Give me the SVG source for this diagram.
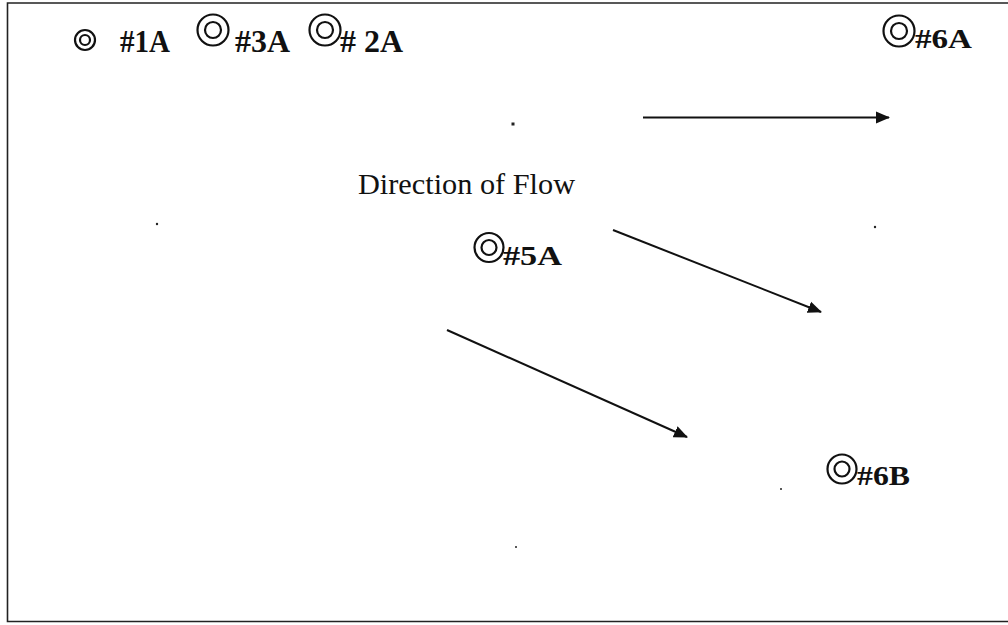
<svg xmlns="http://www.w3.org/2000/svg" width="1008" height="625" viewBox="0 0 1008 625">
  <style>
    .ring { fill: none; stroke: #111; stroke-width: 2.2; }
    .lbl { font-family: "Liberation Serif", "Noto Serif", serif; font-weight: bold; font-size: 31px; fill: #111; }
    .lbl2 { font-family: "Liberation Serif", "Noto Serif", serif; font-weight: bold; font-size: 28px; fill: #111; }
    .title { font-family: "Liberation Serif", "Noto Serif", serif; font-size: 30px; fill: #111; }
    .flow { stroke: #111; stroke-width: 2; fill: none; marker-end: url(#ah); }
    .dot { fill: #222; }
  </style>
  <defs>
    <marker id="ah" markerUnits="userSpaceOnUse" markerWidth="14" markerHeight="14" viewBox="0 0 14 14" refX="13" refY="7" orient="auto">
      <path d="M0,1 L14,7 L0,13 Z" fill="#111"/>
    </marker>
  </defs>
  <rect width="1008" height="625" fill="#fff"/>
  <g id="frame" stroke="#222" stroke-width="1.6" fill="none">
    <path d="M1008,3 L7.5,3 L7.5,621.5 L1008,621.5"/>
  </g>

  <g id="well-1A">
    <circle class="ring" cx="85" cy="40" r="10"/>
    <circle class="ring" cx="85" cy="40" r="5"/>
    <text class="lbl" x="120" y="52" textLength="50" lengthAdjust="spacingAndGlyphs">#1A</text>
  </g>
  <g id="well-3A">
    <circle class="ring" cx="213" cy="30" r="15.5"/>
    <circle class="ring" cx="213" cy="30" r="8"/>
    <text class="lbl" x="235" y="52" textLength="55" lengthAdjust="spacingAndGlyphs">#3A</text>
  </g>
  <g id="well-2A">
    <circle class="ring" cx="325" cy="30" r="15.5"/>
    <circle class="ring" cx="325" cy="30" r="8"/>
    <text class="lbl" x="340" y="52" textLength="63" lengthAdjust="spacingAndGlyphs"># 2A</text>
  </g>
  <g id="well-6A">
    <circle class="ring" cx="899" cy="31" r="15.5"/>
    <circle class="ring" cx="899" cy="31" r="8"/>
    <text class="lbl2" x="915" y="48" textLength="57" lengthAdjust="spacingAndGlyphs">#6A</text>
  </g>
  <g id="well-5A">
    <circle class="ring" cx="489" cy="247.5" r="14.5"/>
    <circle class="ring" cx="489" cy="247.5" r="7.5"/>
    <text class="lbl2" x="503" y="265" textLength="59" lengthAdjust="spacingAndGlyphs">#5A</text>
  </g>
  <g id="well-6B">
    <circle class="ring" cx="842" cy="469" r="14.5"/>
    <circle class="ring" cx="842" cy="469" r="7.5"/>
    <text class="lbl2" x="857" y="485" textLength="53" lengthAdjust="spacingAndGlyphs">#6B</text>
  </g>

  <g id="title">
    <text class="title" x="358" y="194" textLength="217" lengthAdjust="spacingAndGlyphs">Direction of Flow</text>
  </g>

  <g id="connectors">
    <line class="flow" x1="643" y1="117.5" x2="889" y2="117.5"/>
    <line class="flow" x1="613" y1="230" x2="821" y2="312"/>
    <line class="flow" x1="447" y1="330" x2="687" y2="437"/>
  </g>

  <g id="specks">
    <rect class="dot" x="511.5" y="122.5" width="3" height="3"/>
    <circle class="dot" cx="157" cy="224" r="1.2"/>
    <circle class="dot" cx="875" cy="227" r="1.2"/>
    <circle class="dot" cx="781" cy="489" r="1"/>
    <circle class="dot" cx="516" cy="547" r="1"/>
  </g>
</svg>
